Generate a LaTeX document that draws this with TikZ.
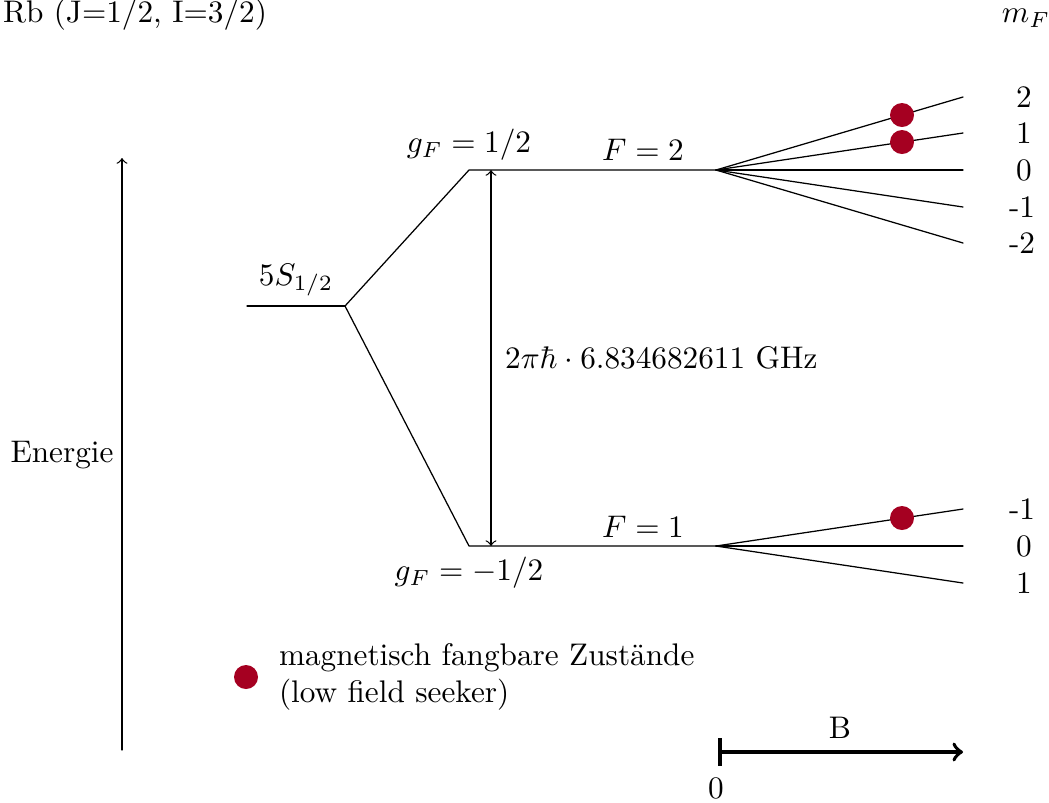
\documentclass[tikz,border=0pt]{standalone}
\definecolor{fangrot}{RGB}{165,0,33}
\begin{document}
\begin{tikzpicture}[
    x=0.32pt,
    y=-0.32pt,
    line cap=round,
    line join=round,
    niveau/.style={line width=0.4pt},
    pfeil/.style={line width=0.4pt,-to},
    zustand/.style={fill=fangrot,draw=none}
]

\useasboundingbox (0,0) rectangle (1049,802);

% -------------------------------------------------
% Niveaus: Grundzustand 5S, F=2 oben, F=1 unten
% -------------------------------------------------

\coordinate (S0)  at (247,306);
\coordinate (S1)  at (345,306);

\coordinate (F2a) at (469,170);
\coordinate (F2b) at (716,170);
\coordinate (F1a) at (469,546);
\coordinate (F1b) at (716,546);

% Enden der Zeeman-Aufspaltung
\coordinate (Ep2)  at (963,97);
\coordinate (Ep1)  at (963,133);
\coordinate (E0)   at (963,170);
\coordinate (Em1)  at (963,207);
\coordinate (Em2)  at (963,243);

\coordinate (Um1)  at (963,509);
\coordinate (U0)   at (963,546);
\coordinate (Up1)  at (963,583);

% -------------------------------------------------
% Linien
% -------------------------------------------------

\draw[niveau] (S0)--(S1);
\draw[niveau] (S1)--(F2a)--(F2b);
\draw[niveau] (S1)--(F1a)--(F1b);

\draw[niveau] (F2b)--(Ep2);
\draw[niveau] (F2b)--(Ep1);
\draw[niveau] (F2b)--(E0);
\draw[niveau] (F2b)--(Em1);
\draw[niveau] (F2b)--(Em2);

\draw[niveau] (F1b)--(Um1);
\draw[niveau] (F1b)--(U0);
\draw[niveau] (F1b)--(Up1);

% Hyperfeinaufspaltung
\coordinate (H2) at (491,170);
\coordinate (H1) at (491,546);
\draw[pfeil,to-to] (H2)--(H1)
    node[midway,right=1pt] (hfs) {$2\pi\hbar\cdot 6.834682611$ GHz};

% Energieachse
\coordinate (En0) at (122,750);
\coordinate (En1) at (122,158);
\draw[pfeil] (En0)--(En1);
\node (energie) at (62,455) {Energie};

% Magnetfeld
\coordinate (B0) at (718,752);
\coordinate (B1) at (963,752);
\draw[line width=1.2pt,|-to] (B0)--(B1);
\node (b) at (840,728) {B};
\node (null) at (716,788) {0};

% -------------------------------------------------
% Fangbare Zustaende
% -------------------------------------------------

\fill[zustand] (902,115) circle (12);
\fill[zustand] (902,142) circle (12);
\fill[zustand] (902,518) circle (12);

\fill[zustand] (246,677) circle (12);
\node[anchor=west,align=left] (legende) at (268,677)
    {magnetisch fangbare Zustände\\(low field seeker)};

% -------------------------------------------------
% Beschriftungen
% -------------------------------------------------

\node[anchor=base west] (titel) at (-8,22) {Rb (J=1/2, I=3/2)};
\node (mf) at (1026,18) {$m_F$};

\node (s) at (296,280) {$5S_{1/2}$};
\node (g2) at (469,145) {$g_F=1/2$};
\node (g1) at (469,573) {$g_F=-1/2$};
\node (f2) at (643,150) {$F=2$};
\node (f1) at (643,527) {$F=1$};

\node (mp2) at (1024,97)  {2};
\node (mp1) at (1024,133) {1};
\node (m0)  at (1024,170) {0};
\node (mm1) at (1022,207) {-1};
\node (mm2) at (1022,243) {-2};

\node (um1) at (1022,509) {-1};
\node (u0)  at (1024,546) {0};
\node (up1) at (1024,583) {1};

\end{tikzpicture}
\end{document}
